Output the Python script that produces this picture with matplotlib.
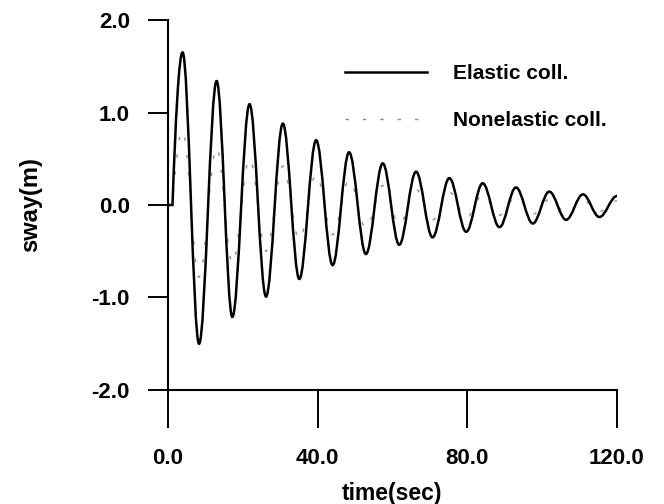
import matplotlib
matplotlib.use('Agg')
import matplotlib.pyplot as plt
from matplotlib.path import Path
from matplotlib.patches import PathPatch
from matplotlib.lines import Line2D

plt.rcParams['font.family'] = ['Liberation Sans', 'DejaVu Sans']
plt.rcParams['font.weight'] = 'bold'

# values (turning points of the sway record)
onset_time = 1.2
end_time = 120.0
peak_times = [3.9, 13.0, 21.8, 30.7, 39.6, 48.4, 57.4, 66.3, 75.2, 84.1, 93.0, 101.9, 110.9]
trough_times = [8.3, 17.2, 26.2, 35.1, 44.0, 52.9, 61.8, 70.7, 79.7, 88.6, 97.5, 106.4, 115.3]

elastic_peaks = [1.65, 1.34, 1.09, 0.88, 0.70, 0.57, 0.45, 0.36, 0.29, 0.235, 0.19, 0.145, 0.115]
elastic_troughs = [-1.50, -1.21, -0.99, -0.80, -0.65, -0.53, -0.43, -0.35, -0.29, -0.24, -0.20, -0.16, -0.13]
elastic_end = 0.097

nonelastic_peaks = [0.80, 0.62, 0.50, 0.42, 0.33, 0.27, 0.21, 0.17, 0.14, 0.11, 0.09, 0.06, 0.05]
nonelastic_troughs = [-0.78, -0.63, -0.50, -0.37, -0.32, -0.25, -0.21, -0.16, -0.14, -0.11, -0.10, -0.08, -0.07]
nonelastic_end = 0.045

xticks = [0, 40, 80, 120]
xtick_labels = ['0.0', '40.0', '80.0', '120.0']
yticks = [-2, -1, 0, 1, 2]
ytick_labels = ['-2.0', '-1.0', '0.0', '1.0', '2.0']


def turning_points(peaks, troughs, end_value):
    t = [0.0, onset_time]
    v = [0.0, 0.0]
    for tp, vp, tt, vt in zip(peak_times, peaks, trough_times, troughs):
        t += [tp, tt]
        v += [vp, vt]
    t.append(end_time)
    v.append(end_value)
    return t, v


def swing_path(t, v):
    # straight rest part, then smooth swings between turning points
    verts = [(t[0], v[0]), (t[1], v[1])]
    codes = [Path.MOVETO, Path.LINETO]
    for i in range(1, len(t) - 1):
        t0, v0, t1, v1 = t[i], v[i], t[i + 1], v[i + 1]
        dt = t1 - t0
        if i == 1:
            c1 = (t0 + 0.3 * dt, v0 + 0.55 * (v1 - v0))
        else:
            c1 = (t0 + 0.36 * dt, v0)
        c2 = (t1 - 0.36 * dt, v1)
        verts += [c1, c2, (t1, v1)]
        codes += [Path.CURVE4] * 3
    return Path(verts, codes)


fig = plt.figure(figsize=(6.64, 5.04), dpi=100)
ax = fig.add_axes([0.2530, 0.2262, 0.6762, 0.7341])

el_style = dict(color='black', lw=1.8, ls='-')
ne_style = dict(color='#8c8c8c', lw=1.0, ls=(0, (2.5, 10)))

t, v = turning_points(nonelastic_peaks, nonelastic_troughs, nonelastic_end)
ax.add_patch(PathPatch(swing_path(t, v), fill=False, edgecolor=ne_style['color'],
                       lw=ne_style['lw'], ls=ne_style['ls']))
t, v = turning_points(elastic_peaks, elastic_troughs, elastic_end)
ax.add_patch(PathPatch(swing_path(t, v), fill=False, edgecolor=el_style['color'],
                       lw=el_style['lw'], ls=el_style['ls']))

ax.set_xlim(0, 120)
ax.set_ylim(-2, 2)
ax.set_xticks(xticks)
ax.set_xticklabels(xtick_labels)
ax.set_yticks(yticks)
ax.set_yticklabels(ytick_labels)
ax.tick_params(axis='x', direction='out', length=27.5, width=1.4, pad=14, labelsize=16)
ax.tick_params(axis='y', direction='out', length=14.4, width=1.4, pad=13, labelsize=16)
for s in ['top', 'right']:
    ax.spines[s].set_visible(False)
for s in ['left', 'bottom']:
    ax.spines[s].set_linewidth(1.5)

ax.set_xlabel('time(sec)', fontsize=16.5, fontweight='bold')
ax.xaxis.set_label_coords(0.5, -0.28)
ax.xaxis.label.set_va('center')
ax.set_ylabel('sway(m)', fontsize=17, fontweight='bold')
ax.yaxis.set_label_coords(-0.307, 0.5)
ax.yaxis.label.set_va('center')

handles = [Line2D([], [], **el_style), Line2D([], [], **ne_style)]
ax.legend(handles, ['Elastic coll.', 'Nonelastic coll.'], loc='upper left',
          bbox_to_anchor=(345 / 664, 1 - 64 / 504), bbox_transform=fig.transFigure,
          frameon=False, borderpad=0, borderaxespad=0, handlelength=3.94,
          handletextpad=1.25, labelspacing=1.34, fontsize=15)

fig.savefig('out.png', dpi=100)
